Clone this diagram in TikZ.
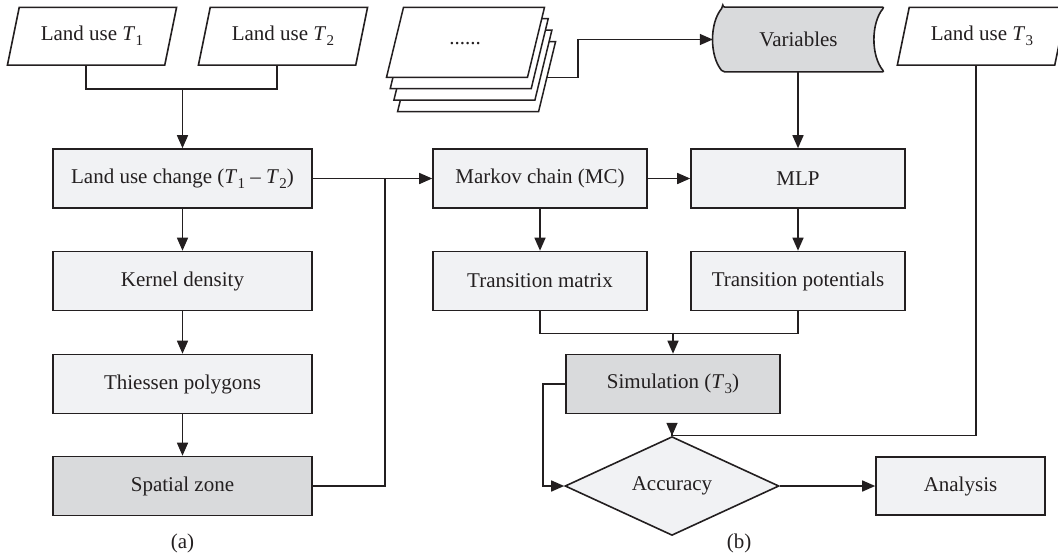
\documentclass[tikz,border=0pt]{standalone}
\usepackage{fontspec}
\setmainfont{Liberation Serif}
\usetikzlibrary{shapes.geometric,arrows.meta}
\definecolor{ink}{HTML}{231F20}
\definecolor{boxlight}{HTML}{F1F2F4}
\definecolor{boxdark}{HTML}{D9DADC}
% italic T with an upright, lowered index
\newcommand\Tsub[1]{\textit{T}\kern0.3pt\raisebox{-5pt}{\fontsize{15}{15}\selectfont #1}}

\begin{document}
\begin{tikzpicture}[x=1pt,y=-1pt,
  font=\fontsize{21}{25}\selectfont,
  every node/.style={text=ink},
  proc/.style={draw=ink, line width=1.6pt, fill=boxlight, minimum width=259pt,
               minimum height=59pt, inner sep=0pt},
  procs/.style={proc, minimum width=214pt},
  dark/.style={fill=boxdark},
  io/.style={trapezium, trapezium left angle=67, trapezium right angle=113,
             trapezium stretches=true, draw=ink, line width=1.6pt, fill=white,
             minimum width=169.4pt, minimum height=57.7pt, inner sep=0pt},
  decide/.style={diamond, draw=ink, line width=1.6pt, fill=boxlight,
                 minimum width=214pt, minimum height=58pt, inner sep=0pt},
  sheet/.style={draw=ink, line width=1.5pt, fill=white, line join=miter},
  line/.style={draw=ink, line width=1.5pt},
  arr/.style={line, -{Triangle[length=13pt,width=11pt]}}
]
\clip (0,0) rectangle (1058,558);

% ---- inputs
\node[io] (p1) at (92,36.2) {Land use \Tsub{1}};
\node[io] (p2) at (283,36.2) {Land use \Tsub{2}};
\node[io] (p3) at (982,36.2) {Land use \Tsub{3}};

% stack of variable layers
\foreach \k in {3,2,1,0}{
  \filldraw[sheet, shift={(3.7*\k,11.4*\k)}]
    (386.5,77.3) -- (527.5,77.3) -- (544.5,7.3) -- (403.5,7.3) -- cycle;
}
\node (docs) at (465,44) {......};
\coordinate (docsout) at (546.9,77.3);

% variables store
\node[minimum width=171pt, minimum height=64.4pt, inner sep=0pt] (var) at (798.5,39.5) {};
\filldraw[draw=ink, line width=1.6pt, fill=boxdark, rounded corners=2pt]
  ([xshift=10pt]var.north west) -- (var.north east)
  .. controls +(-13.3,16) and +(-13.3,-16) .. (var.south east)
  -- ([xshift=10pt]var.south west)
  .. controls +(-13.3,-16) and +(-13.3,16) .. ([xshift=10pt]var.north west) -- cycle;
\node at (var.center) {Variables};

% ---- part (a)
\node[proc] (luc) at (182.5,178.5) {Land use change (\Tsub{1} -- \Tsub{2})};
\node[proc] (kd) at (182.5,281) {Kernel density};
\node[proc] (th) at (182.5,384) {Thiessen polygons};
\node[proc,dark] (sz) at (182.5,486) {Spatial zone};

% ---- part (b)
\node[procs] (mc) at (540,178.5) {Markov chain (MC)};
\node[procs] (mlp) at (798,178.5) {MLP};
\node[procs] (tm) at (540,281) {Transition matrix};
\node[procs] (tp) at (798,281) {Transition potentials};
\node[procs,dark] (sim) at (673,384) {Simulation (\Tsub{3})};
\node[decide] (acc) at (672,486) {Accuracy};
\node[proc, minimum width=169pt, minimum height=58pt] (ana) at (960.5,486) {Analysis};

\node (capa) at (182.5,543) {(a)};
\node (capb) at (739,543) {(b)};

% ---- connectors
\coordinate (m1) at (182.5,88);
\coordinate (jn) at (385,178.5);
\coordinate (m2) at (673,332.5);

\draw[line] (p1.bottom side) -- ++(0,23) -| (p2.bottom side);
\draw[arr] (m1) -- (luc.north);
\draw[arr] (luc) -- (kd);
\draw[arr] (kd) -- (th);
\draw[arr] (th) -- (sz);
\draw[arr] (luc.east) -- (mc.west);
\draw[line] (sz.east) -| (jn);
\draw[arr] (mc.east) -- (mlp.west);
\draw[arr] (var.south -| mlp.north) -- (mlp.north);
\draw[arr] (docsout) -- ++(31,0) |- (var.west);
\draw[arr] (mc) -- (tm);
\draw[arr] (mlp) -- (tp);
\draw[line] (tm.south) -- ++(0,22) -| (tp.south);
\draw[arr] (m2) -- (sim.north);
\draw[arr] (sim.west) -- ++(-22,0) |- (acc.west);
\draw[arr] (p3.bottom side) -- ++(0,369.5) -| (acc.north);
\draw[arr] (acc.east) -- (ana.west);
\end{tikzpicture}
\end{document}
